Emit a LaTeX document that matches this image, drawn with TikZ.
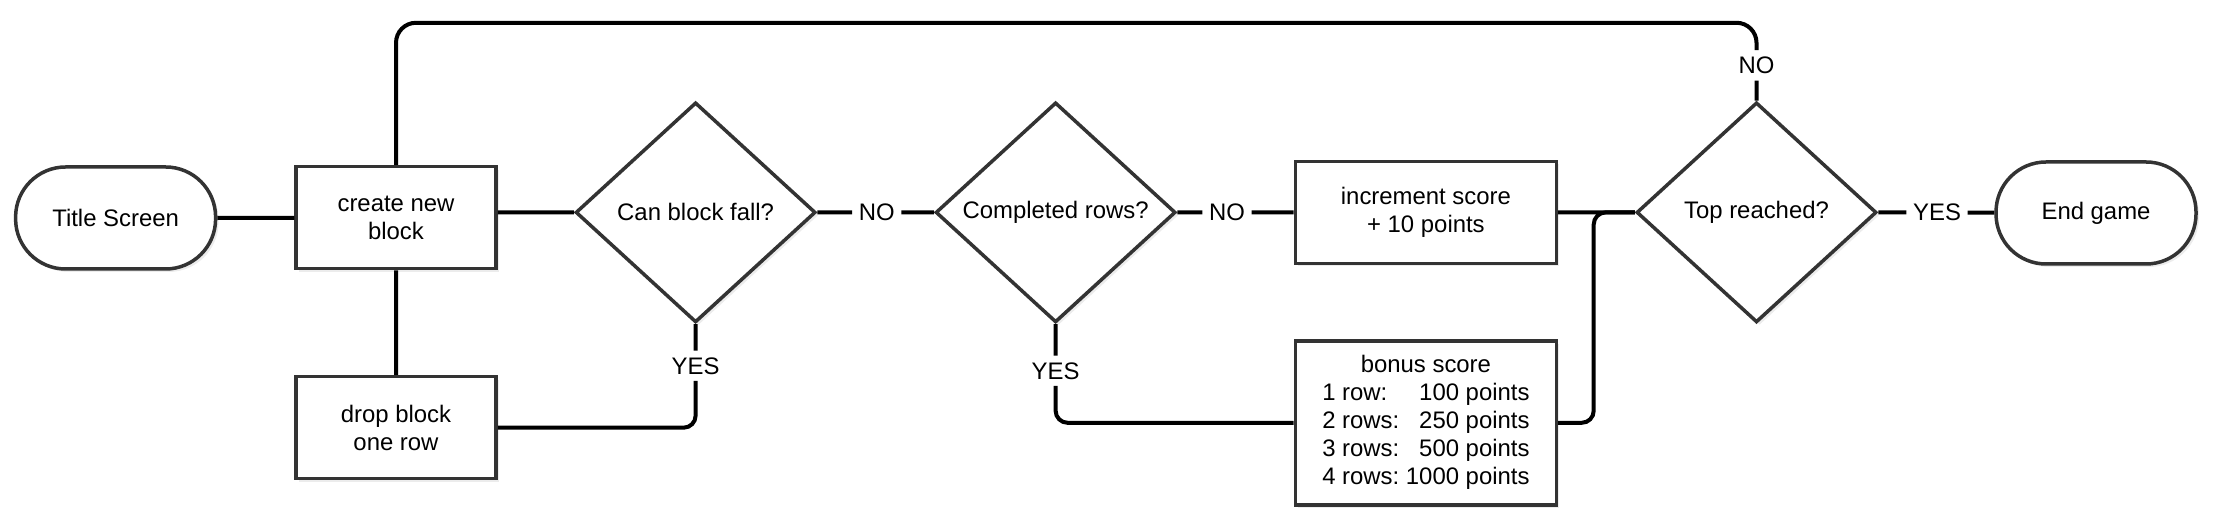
\documentclass[tikz,border=0pt]{standalone}
\usepackage{fontspec}
\setmainfont{Liberation Sans}
\usetikzlibrary{shapes.geometric,shadows}

\begin{document}
\begin{tikzpicture}[font=\fontsize{6.8}{8}\selectfont,
  box/.style={draw=black!80, line width=0.035cm, fill=white, align=center,
    minimum width=2cm, minimum height=1.02cm,
    drop shadow={shadow xshift=0.03cm, shadow yshift=-0.03cm, opacity=0.15}},
  term/.style={box, rounded corners=0.5cm},
  ask/.style={box, diamond, inner sep=0pt, minimum width=2.4cm, minimum height=2.2cm},
  lbl/.style={inner sep=0.06cm},
  line/.style={line width=0.04cm}]
  \useasboundingbox (0,0) rectangle (22.21,5.26);
  \node[term] (title) at (1.156,3.08) {Title Screen};
  \node[box] (create) at (3.96,3.083) {create new\\block};
  \node[box] (drop) at (3.96,0.983) {drop block\\one row};
  \node[ask] (fall) at (6.956,3.136) {Can block fall?};
  \node[ask] (rows) at (10.556,3.136) {Completed rows?};
  \node[box, minimum width=2.61cm] (inc) at (14.259,3.136) {increment score\\+ 10 points};
  \node[box, minimum width=2.61cm, minimum height=1.61cm] (bonus) at (14.259,1.032)
    {\begin{tabular}{@{}l@{\ }r@{}}
      \multicolumn{2}{c}{bonus score}\\
      1 row: & 100 points\\
      2 rows: & 250 points\\
      3 rows: & 500 points\\
      4 rows: & 1000 points
    \end{tabular}};
  \node[ask] (top) at (17.565,3.136) {Top reached?};
  \node[term] (over) at (20.96,3.13) {End game};
  % answers
  \node[lbl] (no1) at (8.768,3.136) {NO};
  \node[lbl] (no2) at (12.27,3.136) {NO};
  \node[lbl] (no3) at (17.565,4.606) {NO};
  \node[lbl] (yes1) at (6.956,1.602) {YES};
  \node[lbl] (yes2) at (10.556,1.552) {YES};
  \node[lbl] (yes3) at (19.37,3.136) {YES};
  \coordinate (loop) at (0,5.032);
  \coordinate (join) at (15.937,3.136);
  \draw[line] (title) -- (create) -- (drop);
  \draw[line] (fall.west -| create.east) -- (fall) -- (no1) -- (rows) -- (no2) -- (inc) -- (top) -- (yes3) -- (over);
  \draw[line, rounded corners=0.12cm] (bonus) -| (join) -- (top);
  \draw[line, rounded corners=0.12cm] (fall) -- (yes1) |- (drop);
  \draw[line, rounded corners=0.12cm] (rows) -- (yes2) |- (bonus);
  \draw[line, rounded corners=0.2cm] (top) -- (no3) |- (create |- loop) -- (create);
\end{tikzpicture}
\end{document}
